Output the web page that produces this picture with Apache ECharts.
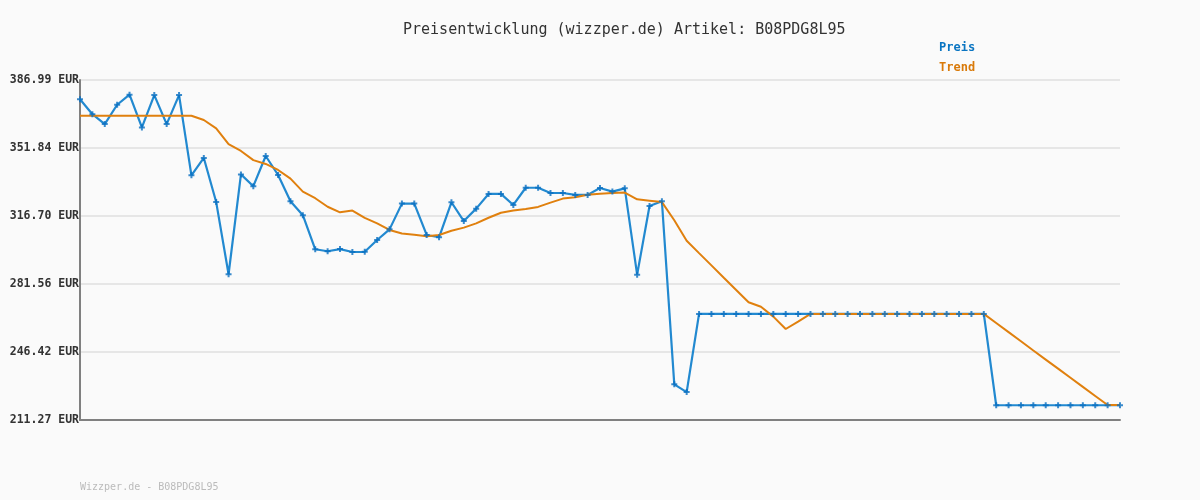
<!DOCTYPE html>
<html>
<head>
<meta charset="utf-8">
<script src="https://cdn.jsdelivr.net/npm/echarts@6/dist/echarts.min.js"></script>
<style>
html,body{margin:0;padding:0;background:#fafafa;}
#chart{width:1200px;height:500px;}
</style>
</head>
<body>
<div id="chart"></div>
<script>
const categories = ["1","2","3","4","5","6","7","8","9","10","11","12","13","14","15","16","17","18","19","20","21","22","23","24","25","26","27","28","29","30","31","32","33","34","35","36","37","38","39","40","41","42","43","44","45","46","47","48","49","50","51","52","53","54","55","56","57","58","59","60","61","62","63","64","65","66","67","68","69","70","71","72","73","74","75","76","77","78","79","80","81","82","83","84","85"];

const preis = [377.0, 369.3, 364.2, 374.2, 379.4, 362.5, 379.2, 364.2, 379.2, 337.7,
  346.7, 323.9, 286.6, 338.2, 332.1, 347.7, 337.9, 324.3, 317.1, 299.5,
  298.5, 299.6, 298.1, 298.2, 304.3, 309.8, 323.1, 323.1, 306.9, 305.7,
  323.8, 314.1, 320.5, 328.1, 328.1, 322.4, 331.3, 331.3, 328.6, 328.6,
  327.6, 327.6, 331.2, 329.3, 331.0, 286.4, 321.9, 324.3, 229.7, 225.7,
  266.1, 266.1, 266.1, 266.1, 266.1, 266.1, 266.1, 266.1, 266.1, 266.1,
  266.1, 266.1, 266.1, 266.1, 266.1, 266.1, 266.1, 266.1, 266.1, 266.1,
  266.1, 266.1, 266.1, 266.1,
  218.9, 218.9, 218.9, 218.9, 218.9, 218.9, 218.9, 218.9, 218.9, 218.9, 218.9];

const trend = [368.5, 368.5, 368.5, 368.5, 368.5, 368.5, 368.5, 368.5, 368.5, 368.5,
  366.3, 362.0, 353.9, 350.3, 345.6, 343.6, 340.5, 336.0, 329.3, 325.9,
  321.5, 318.6, 319.5, 315.7, 312.9, 309.5, 307.7, 307.0, 306.2, 306.9,
  309.1, 310.7, 312.9, 315.8, 318.4, 319.5, 320.3, 321.4, 323.6, 325.7,
  326.4, 327.7, 328.2, 328.6, 328.8, 325.3, 324.6, 323.9, 314.5, 303.9,
  297.5, 291.2, 284.8, 278.5, 272.1, 269.8, 264.7, 258.3, 262.1, 266.1,
  266.1, 266.1, 266.1, 266.1, 266.1, 266.1, 266.1, 266.1, 266.1, 266.1,
  266.1, 266.1, 266.1, 266.1,
  261.4, 256.7, 252.0, 247.2, 242.5, 237.8, 233.1, 228.4, 223.7, 219.0, 219.0];

const yTickLabels = ["211.27 EUR", "246.42 EUR", "281.56 EUR", "316.70 EUR", "351.84 EUR", "386.99 EUR"];
const yMin = 211.273;
const yStep = 35.1429;
const yMax = 386.9875;

const titleText = "Preisentwicklung (wizzper.de) Artikel: B08PDG8L95";
const footerText = "Wizzper.de - B08PDG8L95";

const mono = '"DejaVu Sans Mono", "Liberation Mono", monospace';
const plus = 'path://M2,0H4V2H6V4H4V6H2V4H0V2H2Z';

const chart = echarts.init(document.getElementById('chart'), null, {renderer: 'canvas'});
chart.setOption({
  backgroundColor: '#fafafa',
  animation: false,
  title: {
    text: titleText,
    left: 398, top: 18,
    textStyle: {fontFamily: mono, fontSize: 15, fontWeight: 'normal', color: '#333'}
  },
  legend: {
    orient: 'vertical',
    left: 929, top: 37,
    itemWidth: 0, itemHeight: 0, itemGap: 8,
    selectedMode: false,
    data: [
      {name: 'Preis', icon: 'none', textStyle: {color: '#0a75c2'}},
      {name: 'Trend', icon: 'none', textStyle: {color: '#d97a0a'}}
    ],
    textStyle: {fontFamily: mono, fontSize: 12, fontWeight: 'bold'}
  },
  graphic: [{
    type: 'text', left: 80, top: 482,
    style: {text: footerText, fill: '#bbbbbb', font: '10px ' + mono}
  }],
  grid: {left: 80, right: 80, top: 80, bottom: 80, containLabel: false},
  xAxis: {
    type: 'category', data: categories, boundaryGap: false,
    axisLine: {show: true, lineStyle: {color: '#808080', width: 2}},
    axisTick: {show: false}, axisLabel: {show: false}, splitLine: {show: false}
  },
  yAxis: {
    type: 'value', min: yMin, max: yMax, interval: yStep,
    axisLine: {show: true, lineStyle: {color: '#808080', width: 2}},
    axisTick: {show: false},
    axisLabel: {
      margin: 1,
      fontFamily: mono, fontSize: 11.5, fontWeight: 'bold', color: '#333',
      formatter: function (v) {
        const k = Math.round((v - yMin) / yStep);
        return yTickLabels[k] !== undefined ? yTickLabels[k] : '';
      }
    },
    splitLine: {show: true, lineStyle: {color: '#e6e6e6', width: 2}}
  },
  series: [
    {
      name: 'Preis', type: 'line', data: preis, z: 2,
      showSymbol: false, symbol: 'none',
      lineStyle: {color: '#2289d0', width: 2.2}, itemStyle: {color: '#0a75c2'}
    },
    {
      name: 'Trend', type: 'line', data: trend, z: 3,
      showSymbol: false, symbol: 'none',
      lineStyle: {color: '#e0800e', width: 2}, itemStyle: {color: '#d97a0a'}
    },
    {
      name: 'PreisPunkte', type: 'scatter', data: preis, z: 4,
      symbol: plus, symbolSize: 6,
      itemStyle: {color: '#0a6fc0'}, silent: true
    }
  ]
});
</script>
</body>
</html>
